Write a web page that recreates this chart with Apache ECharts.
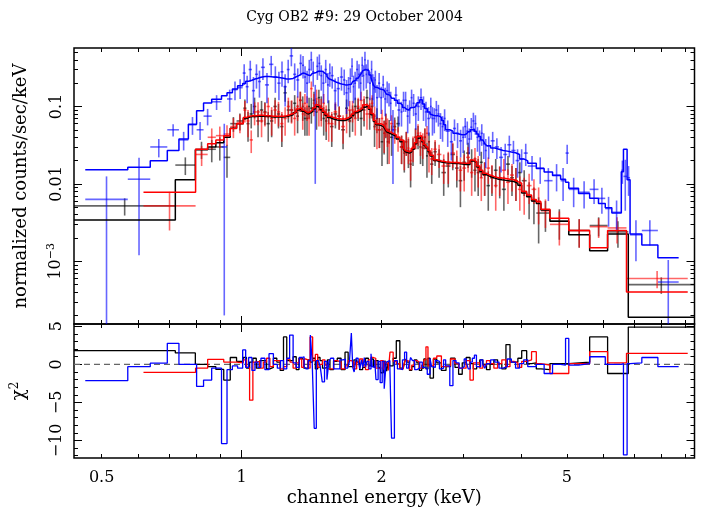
<!DOCTYPE html>
<html><head><meta charset="utf-8">
<script src="https://cdn.jsdelivr.net/npm/echarts@6/dist/echarts.min.js"></script>
<style>html,body{margin:0;padding:0;background:#fff}#c{width:709px;height:510px}</style>
</head><body><div id="c"></div>
<script>
// ---------- text ----------
const titleText = 'Cyg OB2 #9: 29 October 2004';
const xName = 'channel energy (keV)';
const yTopName = 'normalized counts/sec/keV';
const yBotName = 'χ{sup|2}';

// ---------- axis ranges / ticks ----------
const X_MIN = 0.436, X_MAX = 9.41;
const Y_MIN = 1.55e-4, Y_MAX = 0.569;
const CHI_MIN = -12.3, CHI_MAX = 5.3;
const xTickLabels = [0.5, 1, 2, 5];
const xMajorTicks = [1];
const xMinorTicks = [0.5, 0.6, 0.7, 0.8, 0.9, 2, 3, 4, 5, 6, 7, 8, 9];
const yTopLabels = [0.001, 0.01, 0.1];
const yTopLabelText = ['10{sup|−3}', '0.01', '0.1'];
const yTopMinor = [2e-4,3e-4,4e-4,5e-4,6e-4,7e-4,8e-4,9e-4,2e-3,3e-3,4e-3,5e-3,6e-3,7e-3,8e-3,9e-3,0.02,0.03,0.04,0.05,0.06,0.07,0.08,0.09,0.2,0.3,0.4,0.5];
const yBotLabels = [-10, -5, 0, 5];
const yBotLabelText = ['−10', '−5', '0', '5'];
const yBotMinor = [-12,-11,-9,-8,-7,-6,-4,-3,-2,-1,1,2,3,4];

// ---------- blue (bin edges in keV, model, data, error, residual) ----------
const blueEdges = [0.461,0.569,0.636,0.692,0.733,0.768,0.800,0.828,0.862,0.905,0.930,0.955,0.980,
  1.005,1.02,1.035,1.052,1.068,1.084,1.10,1.122,1.145,1.17,1.193,1.212,1.23,1.25,1.268,1.29,1.31,1.33,1.348,1.362,1.375,1.39,1.405,1.418,1.432,1.447,1.462,1.476,1.49,1.507,1.525,1.54,1.554,1.577,1.60,1.626,1.652,1.671,1.69,1.705,1.721,1.733,1.745,1.762,1.78,1.795,1.81,1.822,1.835,1.847,1.859,1.878,1.897,1.908,1.92,1.932,1.944,1.965,1.985,2.005,2.025,2.045,2.065,2.083,2.10,2.13,2.162,
  2.195,2.217,2.24,2.263,2.286,2.308,2.33,2.355,2.381,2.415,2.445,2.475,2.506,2.54,2.561,2.582,2.608,2.635,2.662,2.69,2.717,2.745,2.802,
  2.846,2.89,2.934,2.978,3.009,3.04,3.07,3.101,3.133,3.165,3.197,3.23,3.265,3.30,3.332,3.365,3.43,3.50,3.575,3.649,3.725,3.80,3.88,3.958,4.04,4.122,
  4.30,4.47,4.66,4.85,4.97,5.05,5.30,5.60,5.85,6.05,6.25,6.55,6.62,6.74,6.84,7.25,7.85,8.70];
const blueModel = [.0152,.0164,.0199,.027,.0379,.059,.088,.111,.124,.138,.150,.168,.185,
  .198,.212,.218,.226,.232,.239,.244,.243,.241,.238,.235,.231,.226,.226,.23,.242,.252,.266,.27,.265,.255,.25,.256,.266,.275,.285,.29,.285,.272,.258,.243,.228,.215,.205,.198,.193,.19,.19,.191,.194,.20,.21,.218,.232,.24,.252,.27,.29,.30,.305,.29,.255,.235,.21,.19,.178,.174,.168,.166,.162,.155,.145,.14,.132,.128,.12,.11,
  .104,.097,.092,.09,.092,.096,.098,.104,.112,.122,.108,.094,.085,.08,.077,.076,.076,.075,.072,.066,.058,.05,
  .048,.045,.044,.043,.043,.044,.044,.047,.050,.051,.048,.044,.041,.037,.035,.033,.031,.029,.028,.027,.0265,.0258,.0252,.024,.021,.0198,
  .0185,.0158,.0142,.0128,.0115,.0105,.0088,.0075,.0065,.0056,.0049,.0042,.0144,.0281,.0113,.00225,.00163,.00111];
const blueData = [.0063,.0115,.030,.050,.037,.058,.050,.075,.115,.030,.125,.165,.175,
  .27,.18,.30,.16,.26,.21,.32,.19,.35,.24,.20,.28,.18,.30,.45,.26,.22,.36,.34,.24,.20,.30,.40,.28,.10,.33,.36,.25,.20,.30,.19,.27,.25,.16,.17,.24,.22,.15,.17,.23,.33,.18,.20,.30,.26,.20,.34,.25,.40,.26,.30,.20,.30,.19,.17,.22,.13,.20,.13,.19,.125,.16,.15,.11,.05,.14,.09,
  .085,.12,.12,.075,.09,.13,.11,.08,.10,.13,.10,.085,.07,.10,.07,.07,.09,.08,.06,.055,.07,.048,
  .035,.052,.045,.036,.040,.055,.048,.038,.054,.065,.06,.04,.036,.045,.033,.027,.031,.036,.030,.022,.024,.032,.027,.020,.021,.025,
  .017,.016,.011,.013,.011,.025,.0085,.0078,.0085,.0065,.0048,.0043,.015,.0125,.012,.0022,.0025,.00054];
const blueErr = [.0062,.0103,.008,.009,.010,.015,.013,.018,.025,.0298,.04,.045,.05,
  .08,.07,.09,.08,.09,.08,.10,.08,.10,.09,.08,.10,.08,.10,.12,.10,.09,.11,.11,.09,.09,.10,.11,.10,.09,.11,.11,.09,.09,.10,.08,.09,.08,.07,.07,.08,.08,.07,.07,.08,.09,.07,.08,.09,.09,.08,.10,.09,.11,.09,.10,.08,.09,.07,.07,.07,.06,.07,.05,.06,.05,.05,.05,.045,.04,.04,.035,
  .03,.035,.035,.03,.03,.035,.035,.03,.035,.04,.035,.03,.028,.03,.028,.025,.028,.025,.022,.02,.022,.018,
  .015,.016,.016,.014,.015,.016,.016,.014,.017,.018,.017,.014,.013,.014,.012,.011,.01,.011,.009,.008,.009,.01,.009,.008,.007,.008,
  .006,.006,.005,.005,.005,.007,.0035,.003,.003,.0024,.002,.0018,.005,.008,.005,.0012,.0009,.0005];
const blueChi = [-2.15,-0.3,0.15,2.76,0,0,-2.9,-2.06,-0.5,-10.4,-0.7,-0.2,-0.5,
  1.9,-0.4,0.9,-0.8,0.3,-0.4,0.8,-0.7,1.4,0.0,-0.5,0.5,-0.6,0.8,3.85,0.2,-0.4,0.9,1.0,-0.3,-0.6,0.5,3.85,0.2,-8.4,0.5,0.7,-0.4,-2.3,0.4,-2.0,0.4,0.8,-0.6,-0.6,0.6,0.7,-0.5,-0.5,0.4,4.1,-0.4,-1.0,0.8,0.5,-0.6,0.6,-0.4,0.9,-0.3,0.4,-0.6,1.4,-0.3,-0.4,0.6,-2.0,0.4,-2.4,0.4,-3.2,0.3,0.5,-0.5,-9.7,0.5,-0.6,
  -0.7,0.6,1.6,-0.5,-0.2,0.9,0.5,-0.7,-0.5,0.3,-0.4,-0.5,-1.3,0.8,-0.3,-0.4,0.5,0.4,-0.6,-0.5,0.6,-0.2,
  -2.8,0.5,0.2,-0.5,-0.3,0.7,0.3,-0.6,0.3,0.8,1.2,-0.3,-0.3,0.6,0.0,-0.5,0.1,0.6,0.3,-0.5,-0.3,0.7,0.3,-0.5,0.1,0.6,
  -0.3,0,-1.2,0,-0.1,3.4,-0.1,0.1,1.0,1.0,0,0,0.1,-11.9,0.1,0.2,0.9,-0.3];

// ---------- black ----------
const blackEdges = [0.436,0.72,0.795,0.845,0.88,0.915,0.945,0.975,
  1.008,1.024,1.04,1.057,1.075,1.094,1.113,1.131,1.15,1.17,1.19,1.21,1.23,1.25,1.27,1.29,1.31,1.328,1.346,1.36,1.375,1.389,1.403,1.421,1.44,1.457,1.474,1.492,1.51,1.529,1.548,1.576,1.605,1.636,1.668,1.694,1.72,1.743,1.767,1.793,1.82,1.846,1.873,1.896,1.919,1.942,1.965,1.99,2.016,2.033,2.05,2.067,2.084,2.117,2.15,2.188,2.226,2.248,2.27,2.295,2.321,2.35,2.38,2.409,2.438,2.464,2.49,2.515,2.541,
  2.584,2.627,2.688,2.75,2.812,2.875,2.927,2.98,3.038,3.097,3.148,3.2,3.25,3.3,3.36,3.42,3.485,3.55,3.625,3.70,3.775,3.85,3.925,4.0,4.1,4.2,4.3,4.4,
  4.6,5.05,5.6,6.12,6.78,9.4];
const blackModel = [.00342,.0113,.0275,.030,.034,.040,.0525,.060,
  .070,.073,.074,.074,.075,.075,.074,.074,.073,.073,.073,.073,.074,.076,.078,.083,.09,.093,.087,.083,.08,.082,.086,.093,.10,.098,.091,.084,.077,.072,.069,.067,.066,.066,.068,.072,.077,.083,.086,.091,.098,.102,.092,.078,.064,.058,.057,.055,.053,.051,.047,.045,.043,.041,.038,.035,.028,.026,.025,.026,.028,.033,.039,.040,.035,.031,.029,.026,
  .023,.020,.0192,.0188,.0186,.0184,.0183,.0181,.0178,.0178,.0198,.019,.0165,.0145,.0132,.0125,.012,.0116,.0113,.0111,.0109,.0107,.0102,.0096,.0076,.0068,.006,.0056,
  .0046,.0033,.0022,.00137,.00225,.00019];
const blackData = [.0052,.0175,.028,.028,.030,.022,.060,.065,
  .095,.06,.08,.10,.065,.09,.085,.06,.065,.10,.08,.055,.15,.09,.09,.11,.075,.12,.10,.07,.07,.10,.095,.12,.085,.13,.10,.07,.065,.09,.055,.08,.075,.05,.095,.065,.075,.10,.095,.07,.09,.13,.08,.10,.055,.07,.05,.035,.045,.06,.035,.05,.04,.055,.06,.03,.025,.035,.027,.018,.028,.04,.042,.03,.029,.04,.023,.035,
  .018,.026,.020,.014,.017,.024,.016,.011,.019,.025,.020,.015,.014,.019,.013,.0095,.012,.015,.0115,.0085,.018,.012,.011,.014,.011,.007,.006,.0042,
  .0042,.0033,.0025,.0029,.0024,.0005];
const blackErr = [.0013,.0045,.007,.009,.01,.01,.013,.016,
  .028,.025,.028,.03,.025,.028,.028,.025,.025,.03,.028,.025,.035,.028,.028,.03,.03,.035,.035,.028,.028,.03,.035,.035,.035,.035,.035,.028,.028,.03,.025,.028,.025,.022,.028,.025,.028,.03,.03,.028,.035,.035,.03,.03,.025,.025,.021,.018,.021,.021,.017,.017,.017,.017,.014,.012,.011,.012,.011,.009,.011,.012,.014,.012,.012,.012,.011,.011,
  .008,.009,.008,.007,.008,.009,.007,.006,.008,.009,.008,.007,.007,.007,.006,.005,.005,.006,.005,.004,.005,.005,.005,.005,.004,.0035,.003,.0025,
  .0018,.0014,.001,.0008,.0009,.00012];
const blackChi = [1.8,1.5,0,-0.3,-0.66,-2.06,0.9,0.4,
  0.9,-0.5,0.3,0.8,-0.5,0.5,0.5,-0.6,-0.4,0.8,0.3,-0.8,3.6,0.5,0.5,1.0,-0.7,0.8,0.6,-0.5,-0.5,0.6,0.3,0.8,-0.6,0.9,0.5,-0.5,-0.4,0.6,-0.7,0.4,0.8,-0.7,1.6,-0.3,-0.3,0.6,0.3,-0.7,-0.4,0.8,-0.2,0.7,-0.3,0.5,-0.4,-1.1,-0.5,0.5,-0.9,0.3,-0.2,0.8,3.1,-0.5,-0.3,0.7,0.3,-0.8,-0.3,0.6,0.2,-0.8,-0.5,0.7,-0.6,0.8,
  -1.8,0.7,0.2,-0.8,-0.3,0.8,-0.4,-1.3,0.2,0.9,0.1,-0.6,-0.3,0.6,0,-0.7,0,0.6,0.1,-0.6,2.6,0.3,0.3,0.8,1.8,0.1,0.2,-0.6,
  -0.7,0.1,0.3,3.6,-1.2,4.9];

// ---------- red ----------
const redEdges = [0.615,0.796,0.845,0.88,0.915,0.945,0.975,
  1.008,1.024,1.04,1.057,1.075,1.094,1.113,1.131,1.15,1.17,1.19,1.21,1.23,1.25,1.27,1.29,1.31,1.328,1.346,1.36,1.375,1.389,1.403,1.421,1.44,1.457,1.474,1.492,1.51,1.529,1.548,1.576,1.605,1.636,1.668,1.694,1.72,1.743,1.767,1.793,1.82,1.846,1.873,1.896,1.919,1.942,1.965,1.99,2.016,2.033,2.05,2.067,2.084,2.117,2.15,2.188,2.226,2.248,2.27,2.295,2.321,2.35,2.38,2.409,2.438,2.464,2.49,2.515,2.541,
  2.584,2.627,2.688,2.75,2.812,2.875,2.927,2.98,3.038,3.097,3.148,3.2,3.25,3.3,3.36,3.42,3.485,3.55,3.625,3.70,3.775,3.85,3.925,4.0,4.1,4.2,4.3,4.4,
  4.6,5.05,5.6,6.12,6.72,9.1];
const redModel = [.0078,.028,.033,.037,.042,.052,.060,
  .072,.075,.076,.076,.077,.077,.076,.076,.075,.075,.075,.075,.076,.078,.081,.085,.093,.096,.09,.086,.083,.085,.09,.096,.105,.102,.095,.087,.08,.075,.072,.07,.069,.069,.071,.075,.08,.086,.09,.095,.105,.103,.095,.081,.066,.06,.06,.058,.056,.054,.049,.047,.045,.043,.040,.037,.029,.027,.026,.027,.029,.034,.041,.042,.036,.032,.030,.027,
  .0235,.0205,.0197,.0193,.0191,.0189,.0188,.0186,.0185,.0186,.0203,.0195,.017,.015,.0137,.013,.0125,.0121,.0119,.0117,.0115,.0113,.0107,.0102,.008,.0072,.0063,.0059,
  .0047,.0036,.0025,.0015,.0025,.0004];
const redData = [.0052,.024,.040,.042,.044,.055,.062,
  .09,.065,.037,.085,.085,.065,.083,.10,.07,.09,.085,.06,.07,.10,.09,.07,.10,.12,.08,.11,.10,.07,.17,.11,.125,.09,.09,.11,.075,.06,.06,.085,.075,.055,.07,.09,.09,.07,.10,.12,.10,.08,.10,.11,.075,.05,.05,.07,.045,.06,.05,.035,.06,.05,.04,.03,.026,.035,.029,.02,.030,.04,.045,.035,.033,.04,.045,.025,
  .021,.028,.024,.017,.018,.025,.019,.015,.016,.022,.014,.021,.016,.012,.013,.016,.0125,.0095,.012,.015,.0105,.013,.011,.0085,.008,.0095,.0085,.006,
  .0045,.003,.0025,.0028,.0027,.0006];
const redErr = [.0027,.007,.012,.013,.013,.016,.017,
  .028,.025,.012,.028,.028,.025,.028,.03,.028,.03,.03,.025,.028,.03,.03,.028,.035,.035,.03,.035,.035,.028,.04,.035,.04,.035,.035,.035,.028,.025,.025,.028,.025,.022,.025,.028,.028,.028,.03,.035,.035,.03,.03,.03,.025,.022,.021,.021,.02,.02,.02,.017,.017,.017,.014,.012,.011,.012,.011,.009,.011,.012,.014,.012,.012,.012,.011,.011,
  .008,.009,.008,.007,.008,.009,.008,.007,.008,.008,.007,.008,.007,.006,.006,.006,.005,.005,.005,.006,.005,.005,.005,.004,.004,.004,.003,.003,
  .0018,.0014,.001,.0008,.001,.00015];
const redChi = [-1.05,-0.5,0.66,0.66,0.3,0.3,0.2,
  0.6,-0.4,-4.7,0.3,0.4,-0.5,0.3,0.8,-0.3,0.5,0.5,-0.6,-0.3,0.7,0.3,-0.5,0.2,0.7,-0.4,0.7,0.6,-0.5,3.6,0.5,1.3,-0.4,0.0,0.6,-0.1,-0.6,-0.6,0.5,0.3,-0.6,-0.2,0.5,0.3,-0.6,0.3,0.7,-0.2,-0.7,0.6,0.9,0.8,-0.5,-0.6,0.5,-0.7,0.3,0.1,-0.8,1.6,0.4,0.1,-0.6,-0.3,0.6,0.4,-0.7,-0.1,0.5,0.3,-0.5,-0.1,0.6,2.3,-0.2,
  -0.2,0.8,1.1,-0.3,-0.2,0.7,0.1,-0.5,-0.5,0.5,-2.06,0.2,0.2,-0.5,-0.1,0.5,0.1,-0.5,0.1,0.6,-0.3,0.4,0.2,-0.4,0.4,0.6,1.66,0.1,
  -0.1,-1.2,0.1,1.66,0.2,1.45];

// ---------- helpers ----------
const L = Math.log10;
const FONT = 'DejaVu Serif';
const lx = (e) => L(e);

function stepData(edges, vals, ty) {
  const n = Math.min(vals.length, edges.length - 1);
  const d = [];
  for (let i = 0; i < n; i++) d.push([lx(edges[i]), ty(vals[i])]);
  d.push([lx(edges[n]), ty(vals[n - 1])]);
  return d;
}
function crossData(edges, vals, errs) {
  const n = Math.min(vals.length, errs.length, edges.length - 1);
  const d = [];
  for (let i = 0; i < n; i++) {
    const v = vals[i], a = lx(edges[i]), b = lx(edges[i + 1]);
    d.push([a, b, (a + b) / 2, L(v), L(Math.max(v - errs[i], 1e-7)), L(v + errs[i])]);
  }
  return d;
}
function crossSeries(edges, vals, errs, color) {
  return {
    type: 'custom', xAxisIndex: 0, yAxisIndex: 0, clip: true, silent: true,
    data: crossData(edges, vals, errs),
    encode: { x: [0, 1, 2], y: [3, 4, 5] },
    renderItem: function (params, api) {
      const p1 = api.coord([api.value(0), api.value(3)]);
      const p2 = api.coord([api.value(1), api.value(3)]);
      const q1 = api.coord([api.value(2), api.value(4)]);
      const q2 = api.coord([api.value(2), api.value(5)]);
      const st = { stroke: color, lineWidth: 1.6 };
      return { type: 'group', children: [
        { type: 'line', shape: { x1: p1[0], y1: p1[1], x2: p2[0], y2: p2[1] }, style: st },
        { type: 'line', shape: { x1: q1[0], y1: q1[1], x2: q2[0], y2: q2[1] }, style: st }
      ]};
    }
  };
}
function stepSeries(data, color, xi, yi, w) {
  return { type: 'line', xAxisIndex: xi, yAxisIndex: yi, step: 'end', data: data,
    showSymbol: false, symbol: 'none', silent: true, clip: true,
    lineStyle: { color: color, width: w }, itemStyle: { color: color } };
}

const tickStyle = { color: '#000', width: 1 };
function xAx(grid, pos, ticks, len, labels, name) {
  const ax = {
    type: 'value', gridIndex: grid, position: pos, min: lx(X_MIN), max: lx(X_MAX),
    axisLine: { show: false, onZero: false }, splitLine: { show: false },
    axisTick: { show: true, inside: true, length: len, lineStyle: tickStyle, customValues: ticks.map(lx) },
    axisLabel: { show: false }
  };
  if (labels) {
    ax.axisLabel = { show: true, customValues: labels.map(lx), margin: 12,
      fontFamily: FONT, fontSize: 16, color: '#000',
      formatter: (v) => String(parseFloat(Math.pow(10, v).toPrecision(2))) };
  }
  if (name) {
    ax.name = name; ax.nameLocation = 'middle'; ax.nameGap = 31;
    ax.nameTextStyle = { fontFamily: FONT, fontSize: 18, color: '#000' };
  }
  return ax;
}
function yAx(grid, pos, min, max, ticks, len, labelVals, labelTexts, name) {
  const ax = {
    type: 'value', gridIndex: grid, position: pos, min: min, max: max,
    axisLine: { show: false, onZero: false }, splitLine: { show: false },
    axisTick: { show: true, inside: true, length: len, lineStyle: tickStyle, customValues: ticks },
    axisLabel: { show: false }
  };
  if (labelVals) {
    ax.axisLabel = { show: true, customValues: labelVals, margin: 9, rotate: 90,
      fontFamily: FONT, fontSize: 16, color: '#000',
      formatter: (v) => { const i = labelVals.findIndex(t => Math.abs(t - v) < 1e-6); return i >= 0 ? labelTexts[i] : ''; },
      rich: { sup: { fontFamily: FONT, fontSize: 11, color: '#000', padding: [0, 0, 8, 0] } } };
  }
  if (name) {
    ax.name = name; ax.nameLocation = 'middle'; ax.nameGap = 44; ax.nameRotate = 90;
    ax.nameTextStyle = { fontFamily: FONT, fontSize: 18, color: '#000',
      rich: { sup: { fontFamily: FONT, fontSize: 12, color: '#000', padding: [0, 0, 9, 0] } } };
  }
  return ax;
}

const topMajorY = yTopLabels.map(L), topMinorY = yTopMinor.map(L);
const xAxes = [
  xAx(0, 'top', xMinorTicks, 4),
  xAx(0, 'top', xMajorTicks, 8),
  xAx(0, 'bottom', xMinorTicks, 4),
  xAx(0, 'bottom', xMajorTicks, 8),
  xAx(1, 'bottom', xMinorTicks, 4, xTickLabels, xName),
  xAx(1, 'bottom', xMajorTicks, 8),
  xAx(1, 'top', xMinorTicks, 4),
  xAx(1, 'top', xMajorTicks, 8)
];
const yAxes = [
  yAx(0, 'left', L(Y_MIN), L(Y_MAX), topMajorY, 8, topMajorY, yTopLabelText, yTopName),
  yAx(0, 'left', L(Y_MIN), L(Y_MAX), topMinorY, 4),
  yAx(0, 'right', L(Y_MIN), L(Y_MAX), topMajorY, 8),
  yAx(0, 'right', L(Y_MIN), L(Y_MAX), topMinorY, 4),
  yAx(1, 'left', CHI_MIN, CHI_MAX, yBotLabels, 8, yBotLabels, yBotLabelText, yBotName),
  yAx(1, 'left', CHI_MIN, CHI_MAX, yBotMinor, 4),
  yAx(1, 'right', CHI_MIN, CHI_MAX, yBotLabels, 8),
  yAx(1, 'right', CHI_MIN, CHI_MAX, yBotMinor, 4)
];

const ident = (v) => v;
const series = [
  crossSeries(blackEdges, blackData, blackErr, 'rgba(0,0,0,0.6)'),
  crossSeries(redEdges, redData, redErr, 'rgba(255,0,0,0.6)'),
  crossSeries(blueEdges, blueData, blueErr, 'rgba(0,0,255,0.6)'),
  stepSeries(stepData(blackEdges, blackModel, L), '#000000', 0, 0, 1.5),
  stepSeries(stepData(redEdges, redModel, L), '#ff0000', 0, 0, 1.5),
  stepSeries(stepData(blueEdges, blueModel, L), '#0000ff', 0, 0, 1.5),
  { type: 'line', xAxisIndex: 4, yAxisIndex: 4, data: [[lx(X_MIN), 0], [lx(X_MAX), 0]],
    showSymbol: false, symbol: 'none', silent: true,
    lineStyle: { color: '#666', width: 1.2, type: [6, 4] } },
  stepSeries(stepData(blackEdges, blackChi, ident), '#000000', 4, 4, 1.3),
  stepSeries(stepData(redEdges, redChi, ident), '#ff0000', 4, 4, 1.3),
  stepSeries(stepData(blueEdges, blueChi, ident), '#0000ff', 4, 4, 1.3)
];

const chart = echarts.init(document.getElementById('c'), null, { renderer: 'canvas' });
chart.setOption({
  animation: false,
  backgroundColor: '#fff',
  title: { text: titleText, left: 'center', top: 5,
    textStyle: { fontFamily: FONT, fontSize: 14, fontWeight: 'normal', color: '#000' } },
  grid: [
    { left: 74, right: 14.5, top: 48, height: 276, show: true, borderColor: '#000', borderWidth: 1.5, backgroundColor: 'transparent', outerBoundsMode: 'none', containLabel: false },
    { left: 74, right: 14.5, top: 324, height: 134, show: true, borderColor: '#000', borderWidth: 1.5, backgroundColor: 'transparent', outerBoundsMode: 'none', containLabel: false }
  ],
  xAxis: xAxes,
  yAxis: yAxes,
  series: series
});
</script>
</body></html>
